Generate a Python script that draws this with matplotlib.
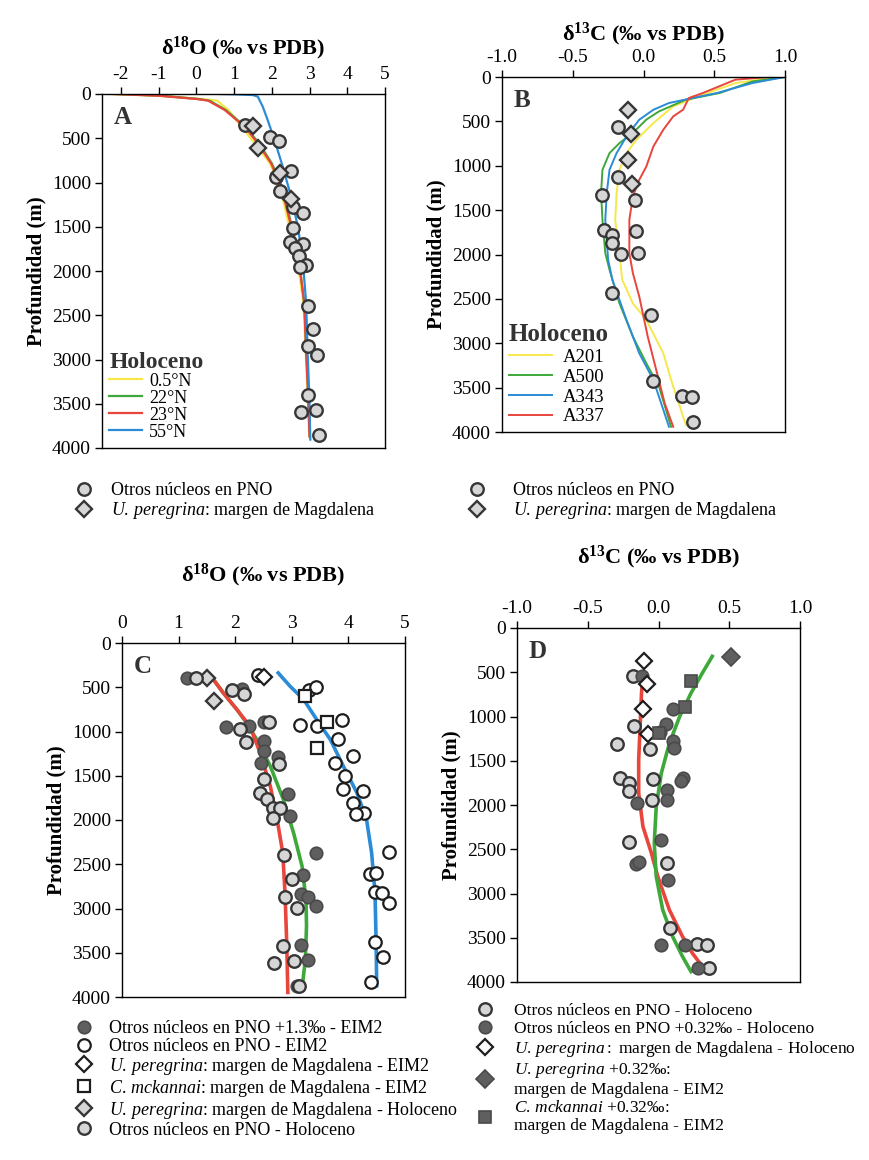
import matplotlib
matplotlib.use('Agg')
import matplotlib.pyplot as plt
from matplotlib.ticker import FormatStrFormatter

# fuentes tipo Times, con mathtext para superindices y cursivas
plt.rcParams['font.family'] = 'Liberation Serif'
plt.rcParams['mathtext.fontset'] = 'custom'
plt.rcParams['mathtext.rm'] = 'Liberation Serif'
plt.rcParams['mathtext.it'] = 'Liberation Serif:italic'
plt.rcParams['mathtext.bf'] = 'Liberation Serif:bold'
plt.rcParams['axes.unicode_minus'] = False

# ---------------- datos panel A (d18O Holoceno) ----------------
a_circ_x = [1.30, 1.96, 2.18, 2.51, 2.11, 2.23, 2.55, 2.82, 2.57, 2.48, 2.82, 2.62,
            2.73, 2.91, 2.76, 2.95, 3.08, 2.95, 3.20, 2.95, 2.78, 3.17, 3.26]
a_circ_z = [350, 490, 527, 865, 933, 1091, 1280, 1347, 1516, 1667, 1693, 1742,
            1825, 1930, 1957, 2390, 2657, 2852, 2954, 3398, 3593, 3575, 3849]
a_diam_x = [1.50, 1.63, 2.23, 2.51]
a_diam_z = [360, 613, 895, 1185]

a_z = [0, 20, 56, 75, 180, 370, 557, 783, 1046, 1422, 1800, 2363, 2928, 3300, 3870]
a_05N = [-2.3, -1.0, 0.1, 0.55, 0.85, 1.20, 1.55, 1.95, 2.22, 2.42, 2.65, 2.84, 2.90, 2.94, 2.99]
a_22N = [-2.1, -0.9, 0.05, 0.35, 0.78, 1.30, 1.66, 2.00, 2.27, 2.49, 2.70, 2.86, 2.92, 2.96, 3.01]
a_23N = [-2.2, -1.0, 0.0, 0.31, 0.75, 1.28, 1.63, 1.98, 2.25, 2.47, 2.69, 2.86, 2.91, 2.95, 3.00]
a_55N_z = [0, 5, 12, 30, 143, 293, 519, 820, 1159, 1497, 1874, 2363, 2928, 3490, 3905]
a_55N = [0.6, 1.1, 1.5, 1.63, 1.76, 1.89, 2.07, 2.29, 2.51, 2.69, 2.82, 2.91, 2.95, 3.00, 3.02]
a_labels = ['0.5°N', '22°N', '23°N', '55°N']

# ---------------- datos panel B (d13C Holoceno) ----------------
b_circ_x = [-0.18, -0.18, -0.29, -0.06, -0.28, -0.05, -0.22, -0.22, -0.16, -0.04,
            -0.22, 0.05, 0.07, 0.27, 0.34, 0.35]
b_circ_z = [564, 1132, 1335, 1384, 1722, 1730, 1778, 1872, 1997, 1978,
            2429, 2681, 3422, 3595, 3602, 3884]
b_diam_x = [-0.11, -0.09, -0.11, -0.08]
b_diam_z = [376, 639, 932, 1207]

b_a201_z = [0, 68, 199, 331, 519, 707, 857, 1045, 1308, 1610, 1985, 2286, 2550, 2737, 3113, 3490, 3922]
b_a201 = [0.95, 0.65, 0.42, 0.21, 0.07, -0.05, -0.12, -0.17, -0.19, -0.20, -0.17, -0.15, -0.075, 0.02, 0.14, 0.21, 0.30]
b_a500_z = [0, 50, 180, 255, 387, 480, 630, 745, 857, 1045, 1308, 1610, 1985, 2173, 2550, 2925, 3226, 3490, 3941]
b_a500 = [1.0, 0.77, 0.54, 0.30, 0.11, 0.02, -0.075, -0.17, -0.24, -0.29, -0.30, -0.29, -0.27, -0.24, -0.17, -0.075, 0.02, 0.11, 0.195]
b_a343_z = [0, 68, 180, 293, 369, 481, 670, 857, 1045, 1308, 1610, 2060, 2286, 2737, 3113, 3414, 3941]
b_a343 = [1.0, 0.77, 0.52, 0.18, 0.07, -0.03, -0.12, -0.19, -0.24, -0.26, -0.27, -0.25, -0.22, -0.12, -0.03, 0.07, 0.18]
b_a337_z = [0, 30, 180, 237, 368, 444, 594, 782, 1008, 1158, 1346, 1610, 1985, 2211, 2474, 2925, 3301, 3677, 3941]
b_a337 = [0.89, 0.65, 0.42, 0.32, 0.28, 0.21, 0.14, 0.07, 0.02, -0.03, -0.075, -0.10, -0.10, -0.075, -0.03, 0.03, 0.09, 0.15, 0.21]
b_labels = ['A201', 'A500', 'A343', 'A337']

# ---------------- datos panel C (d18O EIM2) ----------------
c_dark_x = [1.14, 2.12, 1.84, 2.24, 2.50, 2.51, 2.50, 2.76, 2.45, 2.94, 2.96, 3.43,
            3.19, 3.16, 3.29, 3.43, 3.16, 3.29, 3.10]
c_dark_z = [395, 519, 948, 940, 895, 1109, 1222, 1286, 1361, 1703, 1955, 2376,
            2624, 2839, 2869, 2970, 3410, 3580, 3873]
c_open_x = [2.41, 3.31, 3.43, 3.14, 3.44, 3.89, 3.81, 4.08, 3.76, 3.94, 3.90, 4.25, 4.09,
            4.28, 4.14, 4.71, 4.38, 4.48, 4.47, 4.59, 4.72, 4.47, 4.61, 4.40]
c_open_z = [357, 534, 496, 921, 940, 872, 1090, 1278, 1354, 1504, 1654, 1673, 1812,
            1918, 1936, 2357, 2613, 2594, 2812, 2820, 2933, 3376, 3545, 3835]
c_updiam_x = [2.50]
c_updiam_z = [384]
c_sq_x = [3.24, 3.63, 3.44]
c_sq_z = [602, 891, 1184]
c_holdiam_x = [1.50, 1.63]
c_holdiam_z = [395, 658]
c_hol_x = [1.31, 1.94, 2.16, 2.09, 2.59, 2.19, 2.78, 2.50, 2.43, 2.56, 2.66, 2.79, 2.66,
           2.86, 3.00, 2.88, 3.09, 2.84, 2.69, 3.04, 3.12]
c_hol_z = [395, 534, 572, 970, 895, 1120, 1372, 1542, 1692, 1760, 1861, 1861, 1974,
           2399, 2670, 2869, 2989, 3422, 3617, 3598, 3880]

c_red_z = [357, 564, 752, 940, 1241, 1617, 1993, 2369, 2820, 3384, 3948]
c_red = [1.55, 1.79, 2.03, 2.26, 2.44, 2.62, 2.74, 2.84, 2.88, 2.91, 2.93]
c_green_z = [357, 564, 752, 902, 1090, 1391, 1767, 2143, 2519, 2895, 3196, 3572, 3910]
c_green = [1.55, 1.79, 2.03, 2.20, 2.38, 2.62, 2.85, 3.03, 3.18, 3.25, 3.26, 3.24, 3.18]
c_blue_z = [338, 489, 639, 865, 1090, 1391, 1692, 1993, 2369, 2820, 3384, 3873]
c_blue = [2.76, 2.97, 3.21, 3.44, 3.68, 3.91, 4.15, 4.32, 4.41, 4.47, 4.49, 4.50]

# ---------------- datos panel D (d13C EIM2) ----------------
d_hol_x = [-0.18, -0.17, -0.29, -0.06, -0.27, -0.21, -0.21, -0.04, -0.045, -0.21,
           0.06, 0.08, 0.27, 0.34, 0.36]
d_hol_z = [547, 1112, 1312, 1369, 1697, 1753, 1847, 1708, 1949, 2413,
           2658, 3393, 3570, 3582, 3845]
d_dark_x = [-0.12, 0.10, 0.054, 0.01, 0.105, 0.11, 0.17, 0.16, 0.06, 0.06, -0.15,
            0.02, -0.16, -0.14, 0.066, 0.02, 0.19, 0.28]
d_dark_z = [547, 916, 1082, 1180, 1282, 1357, 1697, 1734, 1828, 1942, 1979,
            2394, 2665, 2639, 2846, 3582, 3582, 3845]
d_updiam_x = [-0.10, -0.08, -0.11, -0.075]
d_updiam_z = [369, 630, 916, 1195]
d_eimdiam_x = [0.51]
d_eimdiam_z = [332]
d_sq_x = [0.23, 0.19, 0.0]
d_sq_z = [600, 890, 1190]

d_red_z = [528, 735, 1112, 1489, 1866, 2243, 2545, 2808, 3186, 3487, 3676, 3845]
d_red = [-0.11, -0.12, -0.13, -0.14, -0.14, -0.11, -0.05, -0.005, 0.077, 0.17, 0.24, 0.32]
d_green_z = [320, 509, 735, 999, 1301, 1640, 2017, 2432, 2808, 3186, 3487, 3713, 3883]
d_green = [0.38, 0.31, 0.23, 0.15, 0.077, 0.02, -0.016, -0.03, -0.016, 0.03, 0.10, 0.17, 0.23]

depth_ticks = [0, 500, 1000, 1500, 2000, 2500, 3000, 3500, 4000]

YEL, GRN, RED, BLU = '#f6e84a', '#3ea83a', '#e8453c', '#2b8bd6'
EDGE = '#363636'
light = dict(ls='none', mfc='#d6d6d6', mec=EDGE, mew=1.7, zorder=5)
dark = dict(ls='none', mfc='#5f5f5f', mec='#4a4a4a', mew=1.2, zorder=5)
hollow = dict(ls='none', mfc='white', mec='#1e1e1e', mew=1.6, zorder=5)

UP = r'$\mathit{U.\,peregrina}$'
CM = r'$\mathit{C.\,mckannai}$'

fig = plt.figure(figsize=(8.7, 11.6), dpi=100)


def make_axes(rect, xlim, xticks, fmt, title, pad, letter):
    ax = fig.add_axes(rect)
    ax.set_xlim(*xlim)
    ax.set_ylim(4000, 0)
    ax.xaxis.tick_top()
    ax.xaxis.set_label_position('top')
    ax.set_xticks(xticks)
    ax.xaxis.set_major_formatter(FormatStrFormatter(fmt))
    ax.set_yticks(depth_ticks)
    ax.tick_params(axis='both', direction='out', length=5, width=1, labelsize=14, pad=3)
    ax.set_xlabel(title, fontsize=16, fontweight='bold', labelpad=pad)
    ax.set_ylabel('Profundidad (m)', fontsize=15, fontweight='bold', labelpad=4)
    for s in ax.spines.values():
        s.set_linewidth(1.0)
    ax.text(0.04, 0.965, letter, transform=ax.transAxes, fontsize=18,
            fontweight='bold', color='#333333', va='top', ha='left')
    return ax


t18 = r'δ$^{\mathbf{18}}$O (‰ vs PDB)'
t13 = r'δ$^{\mathbf{13}}$C (‰ vs PDB)'

# ---------------- A ----------------
axA = make_axes([102/870, 1-448/1160, 283/870, 354/1160], (-2.5, 5),
                [-2, -1, 0, 1, 2, 3, 4, 5], '%d', t18, 8, 'A')
la = []
for xs, zs, c in [(a_05N, a_z, YEL), (a_22N, a_z, GRN), (a_23N, a_z, RED), (a_55N, a_55N_z, BLU)]:
    la.append(axA.plot(xs, zs, color=c, lw=1.6)[0])
hA1, = axA.plot(a_circ_x, a_circ_z, marker='o', ms=9, **light)
hA2, = axA.plot(a_diam_x, a_diam_z, marker='D', ms=8, **light)
leg = axA.legend(la, a_labels, loc='lower left', frameon=False, fontsize=13,
                 title='Holoceno', title_fontproperties={'weight': 'bold', 'size': 17},
                 alignment='left', handlelength=1.8, handletextpad=0.4,
                 labelspacing=0.0, borderaxespad=0.2, borderpad=0.2)
leg.get_title().set_color('#333333')

# ---------------- B ----------------
axB = make_axes([502/870, 1-432/1160, 283/870, 355/1160], (-1, 1),
                [-1.0, -0.5, 0.0, 0.5, 1.0], '%.1f', t13, 6, 'B')
lb = []
for xs, zs, c in [(b_a201, b_a201_z, YEL), (b_a500, b_a500_z, GRN),
                  (b_a343, b_a343_z, BLU), (b_a337, b_a337_z, RED)]:
    lb.append(axB.plot(xs, zs, color=c, lw=1.4)[0])
axB.plot(b_circ_x, b_circ_z, marker='o', ms=9, **light)
axB.plot(b_diam_x, b_diam_z, marker='D', ms=8, **light)
leg = axB.legend(lb, b_labels, loc='lower left', frameon=False, fontsize=13.5,
                 title='Holoceno', title_fontproperties={'weight': 'bold', 'size': 18},
                 alignment='left', handlelength=2.3, handletextpad=0.6,
                 labelspacing=0.15, borderaxespad=0.3, borderpad=0.05)
leg.get_title().set_color('#333333')

# leyendas debajo de A y B
fig.legend([hA1, hA2], ['Otros núcleos en PNO', UP + ': margen de Magdalena'],
           loc='upper left', bbox_to_anchor=(75/870, 1-482/1160), frameon=False,
           fontsize=13, handlelength=1.0, handletextpad=1.0, labelspacing=0.05,
           borderpad=0, borderaxespad=0)
fig.legend([hA1, hA2], ['Otros núcleos en PNO', UP + ': margen de Magdalena'],
           loc='upper left', bbox_to_anchor=(468/870, 1-482/1160), frameon=False,
           fontsize=13, handlelength=1.0, handletextpad=1.5, labelspacing=0.05,
           borderpad=0, borderaxespad=0)

# ---------------- C ----------------
axC = make_axes([122/870, 1-997/1160, 283/870, 354/1160], (0, 5),
                [0, 1, 2, 3, 4, 5], '%d', t18, 24, 'C')
axC.plot(c_red, c_red_z, color=RED, lw=2.6, zorder=3)
axC.plot(c_green, c_green_z, color=GRN, lw=2.6, zorder=2)
axC.plot(c_blue, c_blue_z, color=BLU, lw=2.6, zorder=3)
hC1, = axC.plot(c_dark_x, c_dark_z, marker='o', ms=9, **dark)
hC2, = axC.plot(c_open_x, c_open_z, marker='o', ms=9, **hollow)
hC3, = axC.plot(c_updiam_x, c_updiam_z, marker='D', ms=8, **hollow)
hC4, = axC.plot(c_sq_x, c_sq_z, marker='s', ms=9, **hollow)
hC5, = axC.plot(c_holdiam_x, c_holdiam_z, marker='D', ms=8, **light)
hC6, = axC.plot(c_hol_x, c_hol_z, marker='o', ms=9, **light)
fig.legend([hC1, hC2, hC3, hC4, hC5, hC6],
           ['Otros núcleos en PNO +1.3‰ - EIM2',
            'Otros núcleos en PNO - EIM2',
            UP + ': margen de Magdalena - EIM2',
            CM + ': margen de Magdalena - EIM2',
            UP + ': margen de Magdalena - Holoceno',
            'Otros núcleos en PNO - Holoceno'],
           loc='upper left', bbox_to_anchor=(75/870, 1-1020/1160), frameon=False,
           fontsize=13, handlelength=1.0, handletextpad=0.9, labelspacing=0.05,
           borderpad=0, borderaxespad=0)

# ---------------- D ----------------
axD = make_axes([517/870, 1-982/1160, 283/870, 354/1160], (-1, 1),
                [-1.0, -0.5, 0.0, 0.5, 1.0], '%.1f', t13, 26, 'D')
axD.plot(d_red, d_red_z, color=RED, lw=2.6, zorder=3)
axD.plot(d_green, d_green_z, color=GRN, lw=2.6, zorder=3)
hD1, = axD.plot(d_hol_x, d_hol_z, marker='o', ms=9, **light)
hD2, = axD.plot(d_dark_x, d_dark_z, marker='o', ms=9, **dark)
hD3, = axD.plot(d_updiam_x, d_updiam_z, marker='D', ms=8, **hollow)
hD4, = axD.plot(d_eimdiam_x, d_eimdiam_z, marker='D', ms=9, **dark)
hD5, = axD.plot(d_sq_x, d_sq_z, marker='s', ms=9, **dark)
fig.legend([hD1, hD2, hD3, hD4, hD5],
           ['Otros núcleos en PNO - Holoceno',
            'Otros núcleos en PNO +0.32‰ - Holoceno',
            r'$\mathit{U.\,peregrina:}$ margen de Magdalena - Holoceno',
            UP + ' +0.32‰:\nmargen de Magdalena - EIM2',
            CM + ' +0.32‰:\nmargen de Magdalena - EIM2'],
           loc='upper left', bbox_to_anchor=(476/870, 1-1003/1160), frameon=False,
           fontsize=12.5, handlelength=1.0, handletextpad=1.2, labelspacing=0.1,
           borderpad=0, borderaxespad=0)

fig.savefig('out.png', dpi=100)
